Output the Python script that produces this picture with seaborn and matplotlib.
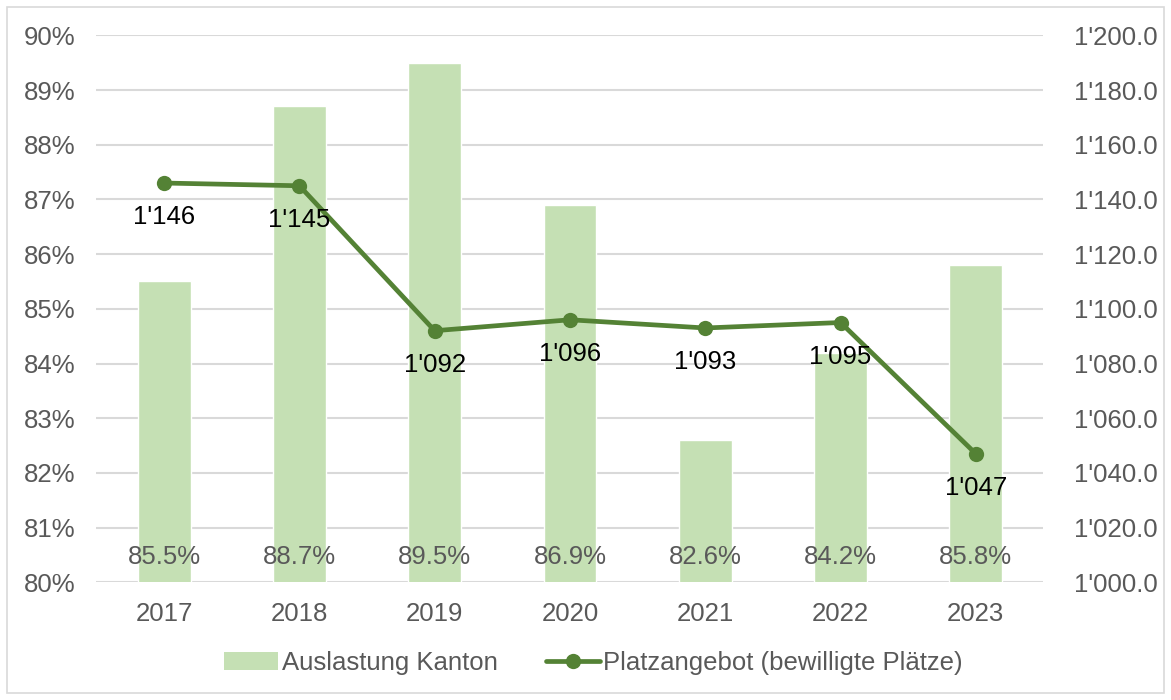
import matplotlib
matplotlib.use("Agg")
import matplotlib.pyplot as plt
import matplotlib.ticker as mticker
from matplotlib.patches import Rectangle
from matplotlib.lines import Line2D
import seaborn as sns
import pandas as pd
import numpy as np

years = ["2017", "2018", "2019", "2020", "2021", "2022", "2023"]
auslastung = [85.5, 88.7, 89.5, 86.9, 82.6, 84.2, 85.8]
platzangebot = [1146, 1145, 1092, 1096, 1093, 1095, 1047]

bar_color = "#C5E0B4"
line_color = "#548235"
text_gray = "#595959"
grid_gray = "#D9D9D9"

sns.set_style("white")
plt.rcParams["font.family"] = ["Liberation Sans", "DejaVu Sans"]
fs = 18.5

fig = plt.figure(figsize=(11.71, 7.0), dpi=100)
ax = fig.add_axes([0.0824, 0.1681, 0.8087, 0.7814])

df = pd.DataFrame({"Jahr": years, "Auslastung": auslastung, "Platz": platzangebot})

sns.barplot(data=df, x="Jahr", y="Auslastung", color=bar_color, width=0.39,
            saturation=1, ax=ax, zorder=2)
ax.set_ylim(80, 90)
ax.set_xlim(-0.5, len(years) - 0.5)
ax.yaxis.set_major_locator(mticker.MultipleLocator(1))
ax.yaxis.set_major_formatter(mticker.FuncFormatter(lambda v, p: f"{v:.0f}%"))
ax.grid(axis="y", color=grid_gray, linewidth=1.5, zorder=0)
ax.set_axisbelow(True)
for s in ax.spines.values():
    s.set_visible(False)
ax.tick_params(axis="both", length=0, labelsize=fs, labelcolor=text_gray)
ax.tick_params(axis="x", pad=14)
ax.tick_params(axis="y", pad=15)
ax.set_xlabel("")
ax.set_ylabel("")

for i, v in enumerate(auslastung):
    ax.text(i, 80.46, f"{v:.1f}%", ha="center", va="center", fontsize=fs,
            color=text_gray, zorder=3)

ax2 = ax.twinx()
x_idx = np.arange(len(years))
sns.lineplot(x=x_idx, y=platzangebot, ax=ax2, color=line_color, linewidth=3.4,
             marker="o", markersize=11, markeredgewidth=0, zorder=4)
ax2.set_ylim(1000, 1200)
ax2.set_xlim(-0.5, len(years) - 0.5)
ax2.yaxis.set_major_locator(mticker.MultipleLocator(20))
ax2.yaxis.set_major_formatter(mticker.FuncFormatter(
    lambda v, p: f"{v:,.1f}".replace(",", "'")))
for s in ax2.spines.values():
    s.set_visible(False)
ax2.tick_params(axis="y", length=0, labelsize=fs, labelcolor=text_gray, pad=22)
ax2.set_ylabel("")

for i, v in enumerate(platzangebot):
    ax2.annotate(f"{v:,}".replace(",", "'"), (i, v), xytext=(0, -34),
                 textcoords="offset pixels", ha="center", va="center",
                 fontsize=fs, color="black", zorder=5)

handles = [
    Rectangle((0, 0), 1, 1, facecolor=bar_color, edgecolor="none"),
    Line2D([0], [0], color=line_color, linewidth=3.4, marker="o", markersize=11,
           markeredgewidth=0),
]
labels = ["Auslastung Kanton", "Platzangebot (bewilligte Plätze)"]
leg = fig.legend(handles, labels, loc="center", bbox_to_anchor=(0.507, 0.053),
                 ncol=2, frameon=False, fontsize=fs, handlelength=2.1,
                 handletextpad=0.12, columnspacing=1.9)
for t in leg.get_texts():
    t.set_color(text_gray)

fig.patches.append(Rectangle((7 / 1171, 7 / 700), 1 - 14 / 1171, 1 - 14 / 700,
                             transform=fig.transFigure, fill=False,
                             edgecolor=grid_gray, linewidth=1.2))

fig.savefig("out.png", dpi=100)
